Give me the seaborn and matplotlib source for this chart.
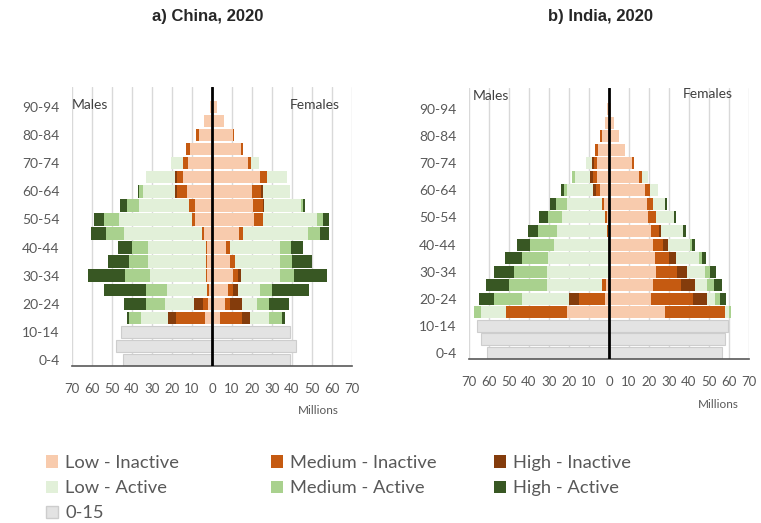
import numpy as np
import pandas as pd
import matplotlib
matplotlib.use("Agg")
import matplotlib.pyplot as plt
import seaborn as sns
from matplotlib.patches import Patch

ages = ["0-4", "5-9", "10-14", "15-19", "20-24", "25-29", "30-34", "35-39", "40-44",
        "45-49", "50-54", "55-59", "60-64", "65-69", "70-74", "75-79", "80-84",
        "85-89", "90-94"]
child_ages = ages[:3]
adult_ages = ages[3:]

legend_labels = ["Low - Inactive", "Medium - Inactive", "High - Inactive",
                 "Low - Active", "Medium - Active", "High - Active", "0-15"]
palette = ["#F8CBAD", "#C55A11", "#843C0C", "#E2F0D9", "#A9D18E", "#385723", "#E3E3E3"]

# millions, adult lists run 15-19 ... 90-94, child lists 0-4, 5-9, 10-14
china_m_low_inact = [3.5, 2.0, 1.5, 2.7, 2.7, 2.7, 4.0, 8.5, 8.4, 12.7, 14.3, 12.0, 10.8, 6.3, 3.8, 1.0]
china_m_med_inact = [14.7, 2.5, 1.2, 0.3, 0.5, 0.5, 1.2, 1.6, 3.0, 4.6, 3.4, 2.4, 2.0, 1.5, 0, 0]
china_m_high_inact = [3.6, 4.5, 0, 0, 0, 0, 0, 0, 0.3, 1.2, 0.8, 0, 0, 0, 0, 0]
china_m_low_act = [13.7, 14.7, 20.0, 28.2, 29.0, 28.6, 39.0, 36.3, 24.6, 15.8, 14.5, 6.2, 0, 0, 0, 0]
china_m_med_act = [5.8, 9.5, 10.5, 12.3, 9.2, 8.4, 9.0, 7.5, 6.2, 2.0, 0, 0, 0, 0, 0, 0]
china_m_high_act = [1.0, 10.8, 20.6, 18.7, 10.8, 7.0, 7.3, 5.0, 3.3, 0.9, 0, 0, 0, 0, 0, 0]
china_m_child = [44.3, 48.0, 45.3]

china_f_low_inact = [4.0, 6.4, 8.0, 10.5, 9.0, 7.2, 13.3, 21.2, 20.5, 20.2, 24.0, 18.0, 14.4, 10.3, 6.2, 2.3]
china_f_med_inact = [11.0, 2.5, 2.6, 2.6, 2.4, 2.0, 2.2, 4.2, 5.0, 4.5, 3.3, 1.5, 1.2, 0.5, 0, 0]
china_f_high_inact = [4.0, 5.9, 2.2, 1.5, 0, 0, 0, 0, 0.5, 0.8, 0, 0, 0, 0, 0, 0]
china_f_low_act = [9.5, 7.8, 11.3, 19.3, 22.7, 24.6, 32.5, 27.3, 18.5, 13.3, 10.0, 4.2, 0, 0, 0, 0]
china_f_med_act = [6.6, 5.8, 6.0, 6.9, 5.8, 5.5, 6.0, 3.0, 0.8, 0, 0, 0, 0, 0, 0, 0]
china_f_high_act = [1.4, 10.0, 18.2, 16.5, 10.0, 6.0, 4.7, 2.7, 1.0, 0, 0, 0, 0, 0, 0, 0]
china_f_child = [39.0, 42.0, 39.0]

india_m_low_inact = [20.8, 1.8, 1.5, 0.3, 0.3, 0.3, 0.5, 1.0, 2.3, 4.5, 6.2, 5.8, 5.3, 3.3, 2.0, 0.8]
india_m_med_inact = [30.5, 13.2, 2.0, 0, 0, 0, 0.5, 1.0, 1.2, 2.0, 1.7, 1.6, 1.5, 1.2, 0, 0]
india_m_high_inact = [0, 5.0, 0, 0, 0, 0, 0, 0, 0, 1.5, 1.5, 1.2, 0, 0, 0, 0]
india_m_low_act = [12.5, 23.5, 27.5, 30.5, 30.2, 27.2, 24.8, 21.7, 17.6, 13.2, 7.5, 3.0, 0, 0, 0, 0]
india_m_med_act = [3.7, 13.8, 18.8, 16.7, 13.2, 12.0, 9.6, 7.0, 5.3, 1.5, 1.8, 0, 0, 0, 0, 0]
india_m_high_act = [0, 7.5, 11.7, 10.2, 8.5, 6.3, 5.0, 4.3, 3.0, 1.3, 0, 0, 0, 0, 0, 0]
india_m_child = [61.0, 64.2, 66.0]

india_f_low_inact = [27.9, 20.8, 22.1, 23.7, 23.1, 22.1, 21.0, 19.6, 19.0, 17.9, 15.0, 11.5, 8.1, 4.9, 2.3, 0.8]
india_f_med_inact = [30.0, 21.2, 14.0, 10.4, 7.1, 5.0, 4.2, 3.8, 3.0, 2.5, 1.6, 1.2, 0, 0, 0, 0]
india_f_high_inact = [0, 7.1, 6.8, 4.8, 3.5, 2.5, 1.0, 0, 0, 0, 0, 0, 0, 0, 0, 0]
india_f_low_act = [2.0, 3.8, 6.3, 9.3, 11.4, 10.9, 10.8, 9.2, 6.2, 4.0, 3.0, 0, 0, 0, 0, 0]
india_f_med_act = [1.3, 2.5, 3.2, 2.4, 1.3, 0.8, 0, 0, 0, 0, 0, 0, 0, 0, 0, 0]
india_f_high_act = [0, 3.3, 3.9, 2.8, 2.1, 1.7, 1.5, 1.0, 0.8, 0, 0, 0, 0, 0, 0, 0]
india_f_child = [56.3, 58.0, 59.6]

sns.set_style("white")
plt.rcParams["font.family"] = ["Lato", "DejaVu Sans"]

W, H = 761, 523


def side_frame(layers, child, sign):
    # cumulative totals so the layers can be drawn on top of each other
    rows = []
    cum = np.zeros(len(adult_ages))
    for k, vals in enumerate(layers):
        cum = cum + np.array(vals)
        for age, v in zip(adult_ages, cum):
            rows.append({"age": age, "layer": k, "value": sign * v})
    for age, v in zip(child_ages, child):
        rows.append({"age": age, "layer": 6, "value": sign * v})
    return pd.DataFrame(rows)


def draw_pyramid(ax, males, females, ylim):
    order = ages[::-1]
    for df in (males, females):
        for k in [6, 5, 4, 3, 2, 1, 0]:
            sub = df[df["layer"] == k]
            sns.barplot(data=sub, x="value", y="age", order=order, orient="h",
                        color=palette[k], saturation=1, errorbar=None, width=0.88,
                        edgecolor="#CDCDCD" if k == 6 else "none",
                        linewidth=0.8 if k == 6 else 0, ax=ax)
    ax.set_xlim(-70, 70)
    ax.set_ylim(*ylim)
    ticks = np.arange(-70, 71, 10)
    ax.set_xticks(ticks)
    ax.set_xticklabels([str(abs(t)) for t in ticks], fontsize=9.5, color="#595959")
    ax.set_yticks(range(len(order)))
    ax.set_yticklabels([a if i % 2 == 0 else "" for i, a in enumerate(order)],
                       fontsize=10, color="#595959")
    ax.xaxis.grid(True, color="#D9D9D9", lw=1)
    ax.yaxis.grid(False)
    ax.set_axisbelow(True)
    ax.axvline(0, color="black", lw=2, zorder=5)
    for s in ["left", "top", "right"]:
        ax.spines[s].set_visible(False)
    ax.spines["bottom"].set_color("#595959")
    ax.spines["bottom"].set_linewidth(1.2)
    ax.tick_params(length=0)
    ax.tick_params(axis="x", pad=12)
    ax.tick_params(axis="y", pad=9)
    ax.set_xlabel("")
    ax.set_ylabel("")


fig = plt.figure(figsize=(W / 100, H / 100), dpi=100)


def rect(left, right, top, bottom):
    return [left / W, 1 - bottom / H, (right - left) / W, (bottom - top) / H]


ax1 = fig.add_axes(rect(72, 352, 87, 366))
china_m = side_frame([china_m_low_inact, china_m_med_inact, china_m_high_inact,
                      china_m_low_act, china_m_med_act, china_m_high_act], china_m_child, -1)
china_f = side_frame([china_f_low_inact, china_f_med_inact, china_f_high_inact,
                      china_f_low_act, china_f_med_act, china_f_high_act], china_f_child, 1)
draw_pyramid(ax1, china_m, china_f, (18 + 6 / 14.06, -20 / 14.06))

ax2 = fig.add_axes(rect(469, 749, 88, 359))
india_m = side_frame([india_m_low_inact, india_m_med_inact, india_m_high_inact,
                      india_m_low_act, india_m_med_act, india_m_high_act], india_m_child, -1)
india_f = side_frame([india_f_low_inact, india_f_med_inact, india_f_high_inact,
                      india_f_low_act, india_f_med_act, india_f_high_act], india_f_child, 1)
draw_pyramid(ax2, india_m, india_f, (18 + 6 / 13.56, -21 / 13.56))


def ftext(x, y, s, **kw):
    fig.text(x / W, 1 - y / H, s, **kw)


ftext(208, 17, "a) China, 2020", ha="center", va="center", fontsize=12,
      fontweight="bold", family=["Liberation Sans", "DejaVu Sans"])
ftext(600, 17, "b) India, 2020", ha="center", va="center", fontsize=12,
      fontweight="bold", family=["Liberation Sans", "DejaVu Sans"])

ftext(72, 105, "Males", ha="left", va="center", fontsize=10, color="#404040")
ftext(340, 105, "Females", ha="right", va="center", fontsize=10, color="#404040")
ftext(473, 96, "Males", ha="left", va="center", fontsize=10, color="#404040")
ftext(733, 94, "Females", ha="right", va="center", fontsize=10, color="#404040")

ftext(318, 411, "Millions", ha="center", va="center", fontsize=8.5, color="#595959")
ftext(718, 405, "Millions", ha="center", va="center", fontsize=8.5, color="#595959")

handles = [Patch(facecolor=c, edgecolor="#CDCDCD" if i == 6 else "none")
           for i, c in enumerate(palette)]
columns = [([0, 3, 6], 46), ([1, 4], 271), ([2, 5], 494)]
for idx, x0 in columns:
    fig.legend([handles[i] for i in idx], [legend_labels[i] for i in idx],
               loc="upper left", bbox_to_anchor=(x0 / W, 1 - 455 / H),
               frameon=False, fontsize=13.2, handlelength=0.65, handleheight=0.65,
               handletextpad=0.4, labelspacing=0.5, borderpad=0, borderaxespad=0,
               labelcolor="#595959")

fig.savefig("out.png", dpi=100)
